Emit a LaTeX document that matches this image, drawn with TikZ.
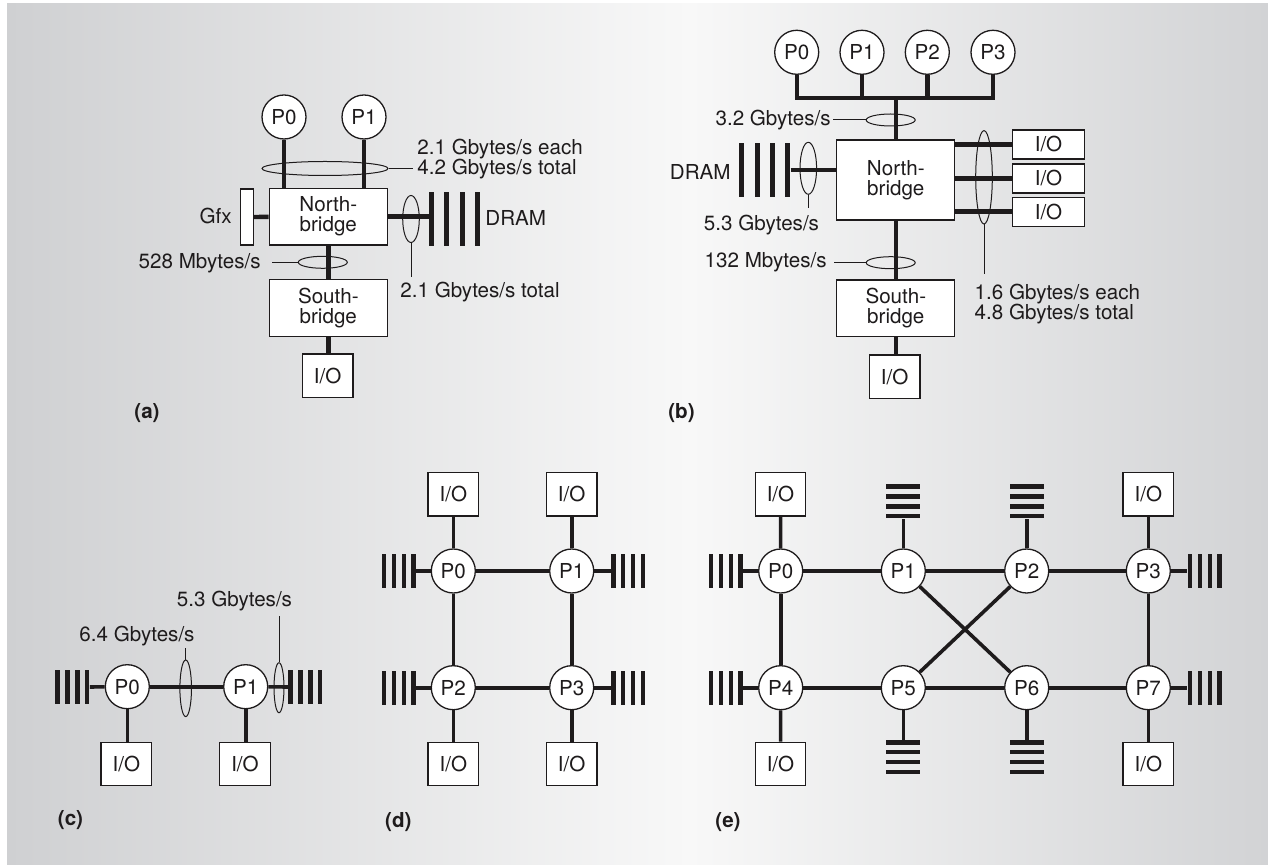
\documentclass[tikz,border=0pt]{standalone}
\usepackage{fontspec}
\setmainfont{TeX Gyre Heros}
\usetikzlibrary{shapes.geometric}
\definecolor{Ink}{HTML}{1E1B1C}
\definecolor{BgEdge}{HTML}{CFD0D2}
\definecolor{BgMid}{HTML}{F8F8F8}
\definecolor{BgRight}{HTML}{D2D3D5}
\tikzset{
  txt/.style={font=\fontsize{10.3}{10}\selectfont, text=Ink},
  proc/.style={circle, draw=Ink, fill=white, line width=0.65pt, minimum size=22pt, inner sep=0pt, txt},
  iobox/.style={rectangle, draw=Ink, fill=white, line width=0.65pt, minimum width=25.3pt, minimum height=21.7pt, inner sep=0pt, txt},
  widebox/.style={iobox, minimum width=35.8pt, minimum height=14.5pt},
  bridge/.style={rectangle, draw=Ink, fill=white, line width=0.65pt, minimum width=59pt, minimum height=28.4pt, inner sep=0pt, align=center, txt},
  gfxbox/.style={rectangle, draw=Ink, fill=white, line width=0.65pt, minimum width=6.3pt, minimum height=28pt, inner sep=0pt},
  bigbar/.style={rectangle, fill=Ink, minimum width=2.5pt, minimum height=27pt, inner sep=0pt},
  vbar/.style={rectangle, fill=Ink, minimum width=2.25pt, minimum height=17pt, inner sep=0pt},
  hbar/.style={rectangle, fill=Ink, minimum width=17pt, minimum height=2.25pt, inner sep=0pt},
  ring/.style={ellipse, draw=Ink, line width=0.5pt, inner sep=0pt},
  lbl/.style={inner sep=0pt, align=left, txt},
  tag/.style={inner sep=0pt, txt, font=\fontsize{10.3}{10}\selectfont\bfseries},
  wire/.style={draw=Ink, line width=2.2pt},
  link/.style={draw=Ink, line width=1.8pt},
  lead/.style={draw=Ink, line width=0.5pt}
}
\begin{document}
\begin{tikzpicture}[x=0.5pt,y=-0.5pt]
\useasboundingbox (0,0) rectangle (1268,865);
\fill[white] (0,0) rectangle (1268,865);
\shade[left color=BgEdge, right color=BgMid] (7,4) rectangle (690,865);
\shade[left color=BgMid, right color=BgRight] (689,4) rectangle (1268,865);

\node[proc] (a0) at (284,117) {P0};
\node[proc] (a1) at (364,117) {P1};
\node[bridge] (anb) at (328.3,216.7) {North-\\bridge};
\node[bridge] (asb) at (328.3,308) {South-\\bridge};
\node[iobox] (aio) at (327.7,375.8) {I/O};
\node[gfxbox] (agfx) at (247,217) {};
\foreach \i in {1,...,4}{\node[bigbar] (am\i) at ({431.7+15.2*(\i-1)},219) {};}
\draw[wire] (a0) -- (a0 |- anb.north);
\draw[wire] (a1) -- (a1 |- anb.north);
\draw[wire] (agfx) -- (anb);
\draw[wire] (anb.east) -- (anb.east -| am1.west);
\draw[wire] (anb) -- (asb);
\draw[wire] (asb.south) -- (asb.south |- aio.north);
\node[ring, minimum width=63pt, minimum height=7pt] (ar1) at (325,168.5) {};
\coordinate (ae1) at (413,168.5);
\draw[lead] (ar1.east) -- (ae1);
\node[lbl, anchor=west] (at1) at (417,159.5) {2.1 Gbytes/s each\\4.2 Gbytes/s total};
\node[ring, minimum width=8.3pt, minimum height=23.5pt] (ar2) at (411,219) {};
\coordinate (ae2) at (411,277);
\draw[lead] (ar2.south) -- (ae2);
\node[lbl, anchor=west] (at2) at (400,292) {2.1 Gbytes/s total};
\node[ring, minimum width=24.5pt, minimum height=6pt] (ar3) at (322.8,262.3) {};
\coordinate (ae3) at (271.7,262.3);
\draw[lead] (ar3.west) -- (ae3);
\node[lbl, anchor=east] (at3) at (261,263) {528 Mbytes/s};
\node[lbl, anchor=east] (agl) at (232,216) {Gfx};
\node[lbl, anchor=west] (aml) at (485,218) {DRAM};
\node[tag] (atag) at (147,412.7) {(a)};

\foreach \k/\px in {0/796.7,1/862,2/927.3,3/993}{\node[proc] (b\k) at (\px,52.3) {P\k};}
\coordinate (bbus) at (895,98.3);
\node[bridge, minimum height=40pt] (bnb) at (895.8,180) {North-\\bridge};
\node[bridge] (bsb) at (895.8,308.3) {South-\\bridge};
\node[iobox] (bio) at (894.7,376.7) {I/O};
\foreach \k/\py in {1/144.5,2/178.5,3/211.7}{\node[widebox] (bio\k) at (1048.5,\py) {I/O};}
\foreach \i in {1,...,4}{\node[bigbar] (bm\i) at ({741.7+15.3*(\i-1)},170) {};}
\draw[wire] (b0) -- (b0 |- bbus) -- (b3 |- bbus) -- (b3);
\draw[wire] (b1) -- (b1 |- bbus);
\draw[wire] (b2) -- (b2 |- bbus);
\draw[wire] (bnb.north |- bbus) -- (bnb.north);
\draw[wire] (bm4) -- (bm4 -| bnb.west);
\foreach \k in {1,2,3}{\draw[wire] (bio\k.west -| bnb.east) -- (bio\k.west);}
\draw[wire] (bnb) -- (bsb);
\draw[wire] (bsb.south) -- (bsb.south |- bio.north);
\node[ring, minimum width=24.5pt, minimum height=6pt] (br1) at (890.7,120) {};
\coordinate (be1) at (832.7,120);
\draw[lead] (br1.west) -- (be1);
\node[lbl, anchor=east] (bt1) at (831,120) {3.2 Gbytes/s};
\node[ring, minimum width=8.3pt, minimum height=26pt] (br2) at (808.3,168.3) {};
\coordinate (be2) at (808.3,208.3);
\draw[lead] (br2.south) -- (be2);
\node[lbl] (bt2) at (761.5,225) {5.3 Gbytes/s};
\node[ring, minimum width=8.3pt, minimum height=46.7pt] (br3) at (984,177.3) {};
\coordinate (be3) at (984,274.3);
\draw[lead] (br3.south) -- (be3);
\node[lbl, anchor=west] (bt3) at (974.3,304.5) {1.6 Gbytes/s each\\4.8 Gbytes/s total};
\node[ring, minimum width=24.5pt, minimum height=6pt] (br4) at (890.7,262.7) {};
\coordinate (be4) at (834.3,262.7);
\draw[lead] (br4.west) -- (be4);
\node[lbl, anchor=east] (bt4) at (827,262.7) {132 Mbytes/s};
\node[lbl, anchor=east] (bml) at (731,171.5) {DRAM};
\node[tag] (btag) at (681.5,412.7) {(b)};

\node[proc] (c0) at (127.3,686.7) {P0};
\node[proc] (c1) at (245.7,686.7) {P1};
\node[iobox] (cio0) at (126.3,764) {I/O};
\node[iobox] (cio1) at (245,764) {I/O};
\foreach \i in {1,...,4}{
  \node[vbar] (c0m\i) at ({57.5+9.9*(\i-1)},687) {};
  \node[vbar] (c1m\i) at ({290.5+9.9*(\i-1)},687) {};
}
\foreach \x/\y in {c0m4/c0,c0/c1,c1/c1m1}{\draw[link] (\x) -- (\y);}
\draw[link] (c0) -- (c0 |- cio0.north);
\draw[link] (c1) -- (c1 |- cio1.north);
\node[ring, minimum width=5.8pt, minimum height=28.3pt] (cr1) at (185.7,688.3) {};
\coordinate (ce1) at (185.7,648.3);
\draw[lead] (cr1.north) -- (ce1);
\node[lbl] (ct1) at (137,636) {6.4 Gbytes/s};
\node[ring, minimum width=5pt, minimum height=25pt] (cr2) at (279,687.7) {};
\coordinate (ce2) at (279,616);
\draw[lead] (cr2.north) -- (ce2);
\node[lbl] (ct2) at (234.5,600.7) {5.3 Gbytes/s};
\node[tag] (ctag) at (70.5,820) {(c)};

\foreach \k/\px/\py in {0/453.3/571,1/571.7/571,2/453.3/687.7,3/571.7/687.7}{\node[proc] (d\k) at (\px,\py) {P\k};}
\node[iobox] (dio0) at (453.3,494.3) {I/O};
\node[iobox] (dio1) at (571.7,494.3) {I/O};
\node[iobox] (dio2) at (453.3,764) {I/O};
\node[iobox] (dio3) at (571.7,764) {I/O};
\foreach \i in {1,...,4}{
  \node[vbar] (d0m\i) at ({384+9.9*(\i-1)},571) {};
  \node[vbar] (d1m\i) at ({613.3+9.9*(\i-1)},571) {};
  \node[vbar] (d2m\i) at ({384+9.9*(\i-1)},687.7) {};
  \node[vbar] (d3m\i) at ({613.3+9.9*(\i-1)},687.7) {};
}
\foreach \x/\y in {d0/d1,d2/d3,d0/d2,d1/d3,d0/dio0,d1/dio1,d2/dio2,d3/dio3,d0m4/d0,d2m4/d2,d1/d1m1,d3/d3m1}{\draw[link] (\x) -- (\y);}
\node[tag] (dtag) at (398.3,821.7) {(d)};

\foreach \k/\px/\py in {0/780.7/571,1/903.3/571,2/1026.7/571,3/1148.3/571,4/780.7/687.7,5/903.3/687.7,6/1026.7/687.7,7/1148.3/687.7}{\node[proc] (e\k) at (\px,\py) {P\k};}
\node[iobox] (eio0) at (780.5,494.3) {I/O};
\node[iobox] (eio3) at (1148.3,494.3) {I/O};
\node[iobox] (eio4) at (780.5,764) {I/O};
\node[iobox] (eio7) at (1148.3,764) {I/O};
\foreach \i in {1,...,4}{
  \node[vbar] (e0m\i) at ({711+9.9*(\i-1)},571) {};
  \node[vbar] (e4m\i) at ({711+9.9*(\i-1)},687.7) {};
  \node[vbar] (e3m\i) at ({1190+9.9*(\i-1)},571) {};
  \node[vbar] (e7m\i) at ({1190+9.9*(\i-1)},687.7) {};
  \node[hbar] (e1m\i) at (903.3,{486.5+9.9*(\i-1)}) {};
  \node[hbar] (e2m\i) at (1026.7,{486.5+9.9*(\i-1)}) {};
  \node[hbar] (e5m\i) at (903.3,{742.3+9.9*(\i-1)}) {};
  \node[hbar] (e6m\i) at (1026.7,{742.3+9.9*(\i-1)}) {};
}
\foreach \x/\y in {e0/e1,e1/e2,e2/e3,e4/e5,e5/e6,e6/e7,e0/e4,e3/e7,e1/e6,e2/e5,e0/eio0,e3/eio3,e4/eio4,e7/eio7,e0m4/e0,e4m4/e4,e3/e3m1,e7/e7m1,e1/e1m4,e2/e2m4,e5/e5m1,e6/e6m1}{\draw[link] (\x) -- (\y);}
\node[tag] (etag) at (728,822) {(e)};
\end{tikzpicture}
\end{document}
